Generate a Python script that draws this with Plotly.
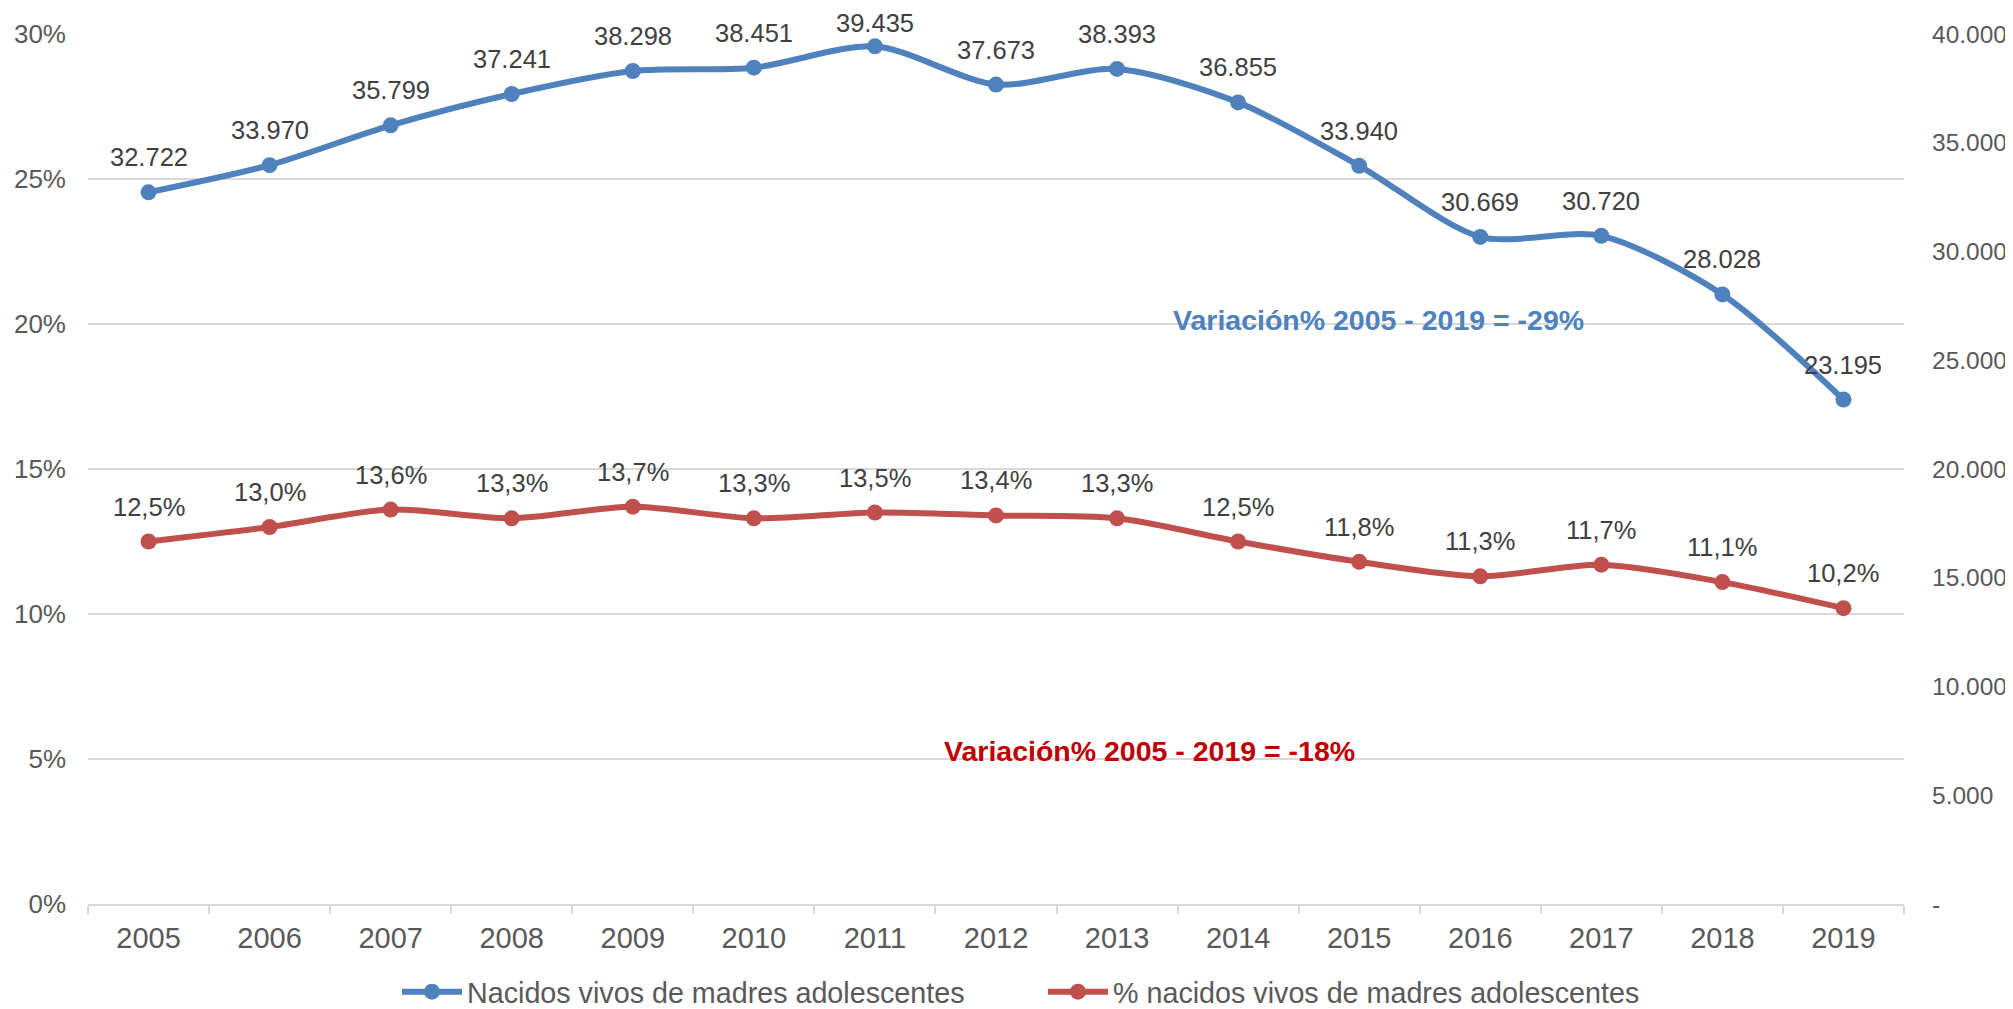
import plotly.graph_objects as go

years = ["2005", "2006", "2007", "2008", "2009", "2010", "2011", "2012",
         "2013", "2014", "2015", "2016", "2017", "2018", "2019"]
nacidos = [32722, 33970, 35799, 37241, 38298, 38451, 39435, 37673,
           38393, 36855, 33940, 30669, 30720, 28028, 23195]
pct_nacidos = [0.125, 0.130, 0.136, 0.133, 0.137, 0.133, 0.135, 0.134,
               0.133, 0.125, 0.118, 0.113, 0.117, 0.111, 0.102]
left_ticks = [0, 0.05, 0.10, 0.15, 0.20, 0.25, 0.30]
left_ticktext = ["0%", "5%", "10%", "15%", "20%", "25%", "30%"]
right_ticks = [0, 5000, 10000, 15000, 20000, 25000, 30000, 35000, 40000]
right_ticktext = ["-", "5.000", "10.000", "15.000", "20.000", "25.000",
                  "30.000", "35.000", "40.000"]

# label offsets (px above point); the top-most label is pulled down to stay inside
blue_label_shift = [35, 35, 35, 35, 35, 35, 23, 35, 35, 35, 35, 35, 35, 35, 35]
red_label_shift = [35] * 15

BLUE = "#4F81BD"
RED = "#C0504D"
FONT = "Liberation Sans, Arial, sans-serif"
GRID = "#D9D9D9"

# page body has an 8px margin; figure is sized so the plot lands where the reference has it
W, H = 2005, 1001
PL, PT, PR, PB = 80, 26, 1896, 896  # plot area in figure pixels
PW, PH = PR - PL, PB - PT

fig = go.Figure()
fig.add_trace(go.Scatter(
    x=years, y=nacidos, name="Nacidos vivos de madres adolescentes",
    mode="lines+markers", yaxis="y2",
    line=dict(color=BLUE, width=6, shape="spline", smoothing=0.8),
    marker=dict(color=BLUE, size=16),
))
fig.add_trace(go.Scatter(
    x=years, y=pct_nacidos, name="% nacidos vivos de madres adolescentes",
    mode="lines+markers", yaxis="y",
    line=dict(color=RED, width=6, shape="spline", smoothing=0.8),
    marker=dict(color=RED, size=16),
))

annotations = []
for i, v in enumerate(nacidos):
    annotations.append(dict(
        x=i, y=v, xref="x", yref="y2", yshift=blue_label_shift[i], showarrow=False,
        text=f"{v:,}".replace(",", "."),
        font=dict(family=FONT, size=25.5, color="#404040")))
for i, v in enumerate(pct_nacidos):
    annotations.append(dict(
        x=i, y=v, xref="x", yref="y", yshift=red_label_shift[i], showarrow=False,
        text=f"{v*100:.1f}%".replace(".", ","),
        font=dict(family=FONT, size=25.5, color="#404040")))
annotations.append(dict(
    x=(1370 - PL) / PW, y=(PB - 312) / PH, xref="paper", yref="paper",
    showarrow=False, xanchor="center", yanchor="middle",
    text="<b>Variación% 2005 - 2019 = -29%</b>",
    font=dict(family=FONT, size=28.5, color=BLUE)))
annotations.append(dict(
    x=(1141 - PL) / PW, y=(PB - 743) / PH, xref="paper", yref="paper",
    showarrow=False, xanchor="center", yanchor="middle",
    text="<b>Variación% 2005 - 2019 = -18%</b>",
    font=dict(family=FONT, size=28.5, color="#C00000")))

fig.update_layout(
    width=W, height=H,
    margin=dict(l=PL, r=W - PR, t=PT, b=H - PB, autoexpand=False),
    paper_bgcolor="white", plot_bgcolor="white",
    font=dict(family=FONT, color="#595959"),
    showlegend=True,
    legend=dict(orientation="h", x=(1035 - PL) / PW, y=(PB - 984) / PH,
                xanchor="center", yanchor="middle",
                font=dict(family=FONT, size=28.7, color="#595959"),
                itemwidth=60, entrywidth=571, entrywidthmode="pixels",
                tracegroupgap=0),
    annotations=annotations,
    xaxis=dict(type="category", range=[-0.5, len(years) - 0.5],
               showgrid=False, showline=True, automargin=False,
               linecolor=GRID, linewidth=2, ticks="outside",
               tickson="boundaries", ticklen=8, tickcolor=GRID, tickwidth=2,
               tickangle=0,
               tickfont=dict(family=FONT, size=29, color="#595959"),
               ticklabelstandoff=7, zeroline=False),
    yaxis=dict(range=[0, 0.30], tickvals=left_ticks, ticktext=left_ticktext,
               showgrid=True, gridcolor=GRID, gridwidth=1.5, zeroline=False,
               showline=False, automargin=False,
               tickfont=dict(family=FONT, size=26, color="#595959"),
               ticklabelstandoff=21),
    yaxis2=dict(range=[0, 40000], tickvals=right_ticks, ticktext=right_ticktext,
                overlaying="y", side="right", showgrid=False, zeroline=False,
                showline=False, automargin=False,
                tickfont=dict(family=FONT, size=24.5, color="#595959"),
                ticklabelstandoff=27),
)

fig.write_html("out.html")
